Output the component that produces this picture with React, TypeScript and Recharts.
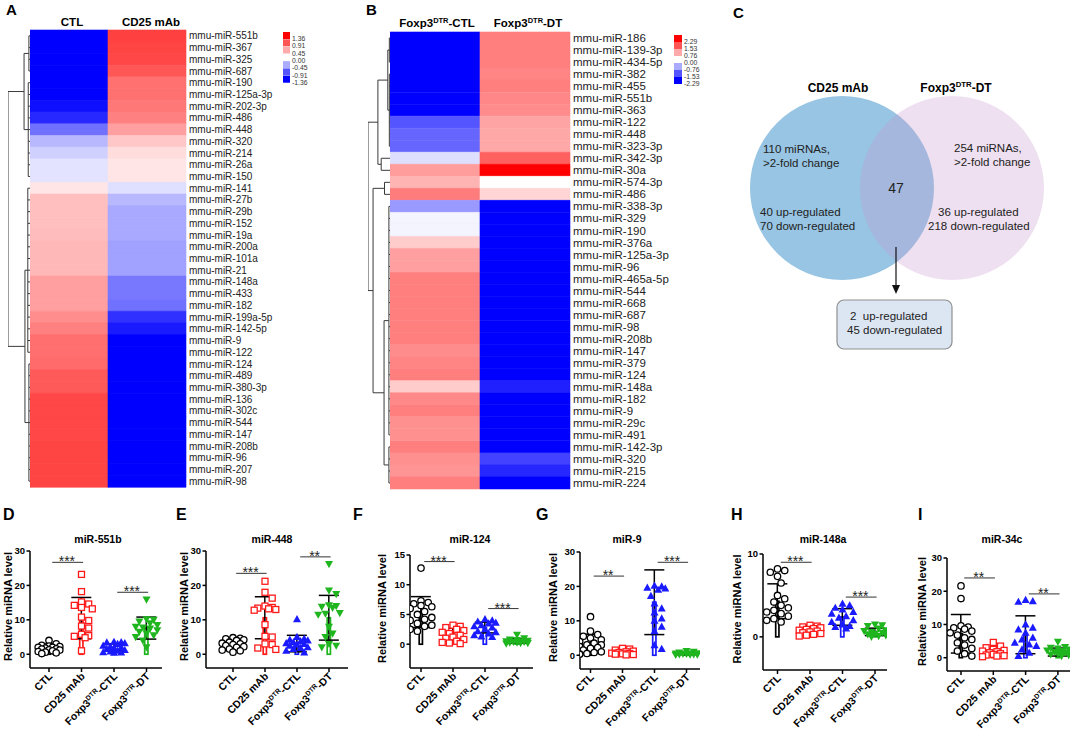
import React from 'react';
import {
  BarChart, Bar, Cell, XAxis, YAxis, ComposedChart, Scatter, ErrorBar,
  ReferenceLine, ScatterChart, LineChart, Line,
} from 'recharts';

const FONT = '"Liberation Sans", Arial, Helvetica, sans-serif';

// ---------------- Heatmap A (CTL vs CD25 mAb) ----------------
const heatA_rows = [
  'mmu-miR-551b', 'mmu-miR-367', 'mmu-miR-325', 'mmu-miR-687', 'mmu-miR-190', 'mmu-miR-125a-3p',
  'mmu-miR-202-3p', 'mmu-miR-486', 'mmu-miR-448', 'mmu-miR-320', 'mmu-miR-214', 'mmu-miR-26a',
  'mmu-miR-150', 'mmu-miR-141', 'mmu-miR-27b', 'mmu-miR-29b', 'mmu-miR-152', 'mmu-miR-19a',
  'mmu-miR-200a', 'mmu-miR-101a', 'mmu-miR-21', 'mmu-miR-148a', 'mmu-miR-433', 'mmu-miR-182',
  'mmu-miR-199a-5p', 'mmu-miR-142-5p', 'mmu-miR-9', 'mmu-miR-122', 'mmu-miR-124', 'mmu-miR-489',
  'mmu-miR-380-3p', 'mmu-miR-136', 'mmu-miR-302c', 'mmu-miR-544', 'mmu-miR-147', 'mmu-miR-208b',
  'mmu-miR-96', 'mmu-miR-207', 'mmu-miR-98',
];
const heatA_ctl = [
  -1.36, -1.36, -1.36, -1.36, -1.36, -1.36, -1.28, -1.15, -0.76, -0.38, -0.25, -0.15, -0.15,
  0.14, 0.34, 0.34, 0.34, 0.36, 0.38, 0.38, 0.38, 0.51, 0.51, 0.51, 0.61, 0.68, 0.77, 0.77,
  0.79, 0.88, 0.88, 0.98, 0.98, 0.98, 0.98, 1.0, 1.0, 1.0, 1.0,
];
const heatA_cd25 = [
  1.02, 1.0, 0.98, 0.9, 0.76, 0.76, 0.72, 0.68, 0.51, 0.3, 0.18, 0.14, 0.14,
  -0.17, -0.38, -0.46, -0.46, -0.46, -0.5, -0.5, -0.5, -0.72, -0.72, -0.76, -1.1, -1.22,
  -1.36, -1.36, -1.36, -1.36, -1.36, -1.36, -1.36, -1.36, -1.36, -1.36, -1.36, -1.36, -1.36,
];
const heatA_legend = [1.36, 0.91, 0.45, 0, -0.45, -0.91, -1.36];
const heatA_max = 1.36;

// ---------------- Heatmap B (Foxp3DTR-CTL vs Foxp3DTR-DT) ----------------
const heatB_rows = [
  'mmu-miR-186', 'mmu-miR-139-3p', 'mmu-miR-434-5p', 'mmu-miR-382', 'mmu-miR-455', 'mmu-miR-551b',
  'mmu-miR-363', 'mmu-miR-122', 'mmu-miR-448', 'mmu-miR-323-3p', 'mmu-miR-342-3p', 'mmu-miR-30a',
  'mmu-miR-574-3p', 'mmu-miR-486', 'mmu-miR-338-3p', 'mmu-miR-329', 'mmu-miR-190', 'mmu-miR-376a',
  'mmu-miR-125a-3p', 'mmu-miR-96', 'mmu-miR-465a-5p', 'mmu-miR-544', 'mmu-miR-668', 'mmu-miR-687',
  'mmu-miR-98', 'mmu-miR-208b', 'mmu-miR-147', 'mmu-miR-379', 'mmu-miR-124', 'mmu-miR-148a',
  'mmu-miR-182', 'mmu-miR-9', 'mmu-miR-29c', 'mmu-miR-491', 'mmu-miR-142-3p', 'mmu-miR-320',
  'mmu-miR-215', 'mmu-miR-224',
];
const heatB_ctl = [
  -2.29, -2.29, -2.29, -2.29, -2.29, -2.29, -2.29, -1.53, -1.37, -1.37, -0.3, 0.89, 0.67, 1.18,
  -0.92, -0.1, -0.1, 0.46, 0.86, 0.86, 1.15, 1.15, 1.15, 1.15, 1.15, 1.15, 1.03, 1.1, 1.15,
  0.46, 1.06, 1.15, 1.0, 1.0, 1.15, 1.0, 0.96, 1.15,
];
const heatB_dt = [
  1.15, 1.15, 1.15, 1.1, 1.15, 1.08, 1.03, 0.82, 0.78, 0.78, 1.43, 2.29, 0.0, 0.38,
  -2.29, -2.29, -2.29, -2.29, -2.29, -2.29, -2.29, -2.29, -2.29, -2.29, -2.29, -2.29, -2.29, -2.29, -2.29,
  -2.0, -2.29, -2.29, -2.29, -2.29, -2.29, -1.7, -1.95, -2.29,
];
const heatB_legend = [2.29, 1.53, 0.76, 0, -0.76, -1.53, -2.29];
const heatB_max = 2.29;

// Row dendrograms (leaf index ranges, merge heights 0..1)
const dendroA = {
  h: 1, kids: [
    { h: 0.27, kids: [{ h: 0.05, leaves: [0, 3] }, { h: 0.08, leaves: [4, 12] }] },
    { h: 0.23, kids: [{ h: 0.1, leaves: [13, 27] }, { h: 0.05, leaves: [28, 38] }] },
  ],
};
const dendroB = {
  h: 1, kids: [
    { h: 0.55, kids: [
      { h: 0.1, kids: [{ h: 0.03, leaves: [0, 2] }, { h: 0.03, leaves: [3, 9] }] },
      { h: 0.4, leaves: [10, 11] },
    ] },
    { h: 0.77, kids: [
      { h: 0.25, leaves: [12, 13] },
      { h: 0.27, kids: [{ h: 0.05, leaves: [14, 33] }, { h: 0.05, leaves: [34, 37] }] },
    ] },
  ],
};

// ---------------- Venn (C) ----------------
const vennSets = [
  { name: 'CD25 mAb', total: 110, up: 40, down: 70 },
  { name: 'Foxp3DTR-DT', total: 254, up: 36, down: 218 },
];
const vennShared = { total: 47, up: 2, down: 45 };

// ---------------- Dot-bar panels (D-I) ----------------
const groupNames = ['CTL', 'CD25 mAb', 'Foxp3DTR-CTL', 'Foxp3DTR-DT'];
const panelLetters = ['D', 'E', 'F', 'G', 'H', 'I'];
const panelTitles = ['miR-551b', 'miR-448', 'miR-124', 'miR-9', 'miR-148a', 'miR-34c'];
const panelYTicks = [[0, 10, 20, 30], [0, 10, 20, 30], [0, 5, 10, 15], [0, 10, 20, 30], [0, 10], [0, 10, 20, 30]];
const panelYMin = [-4, -4, -4, -4, -4, -4];
const panelMeans = [
  [1.8, 10.5, 2.0, 7.6],
  [2.7, 10.6, 3.1, 10.6],
  [5.4, 1.7, 2.8, 0.55],
  [3.4, 0.8, 15.4, 0.5],
  [4.3, 0.9, 2.4, 0.6],
  [7.2, 1.8, 6.9, 1.7],
];
const panelSDs = [
  [1.2, 6.0, 1.0, 3.2],
  [1.4, 6.1, 2.4, 6.5],
  [2.6, 1.0, 0.9, 0.4],
  [2.7, 0.6, 9.4, 0.35],
  [2.1, 0.5, 1.0, 0.45],
  [5.8, 1.0, 5.7, 1.2],
];
const panelPoints = [
  [
    [4.0, 3.0, 2.6, 2.4, 2.2, 2.0, 2.0, 1.8, 1.6, 1.5, 1.3, 1.2, 1.0, 0.8, 0.6, 0.4, 0.2],
    [23.2, 18.2, 15.2, 14.6, 14.2, 13.6, 13.2, 10.8, 9.8, 8.2, 7.6, 5.8, 5.4, 5.2, 4.8, 1.0],
    [3.6, 3.5, 3.4, 3.2, 3.0, 2.5, 2.2, 2.0, 1.8, 1.5, 1.2, 1.0, 0.8, 0.6, 0.5, 0.4],
    [15.9, 10.2, 10.0, 9.5, 9.0, 8.5, 8.0, 7.8, 7.5, 7.0, 6.5, 6.0, 5.5, 5.0, 4.0, 2.0],
  ],
  [
    [4.8, 4.6, 4.5, 4.2, 4.0, 3.5, 3.2, 3.0, 2.8, 2.5, 2.2, 2.0, 1.5, 1.2, 1.0, 0.6],
    [21.2, 18.0, 16.3, 14.0, 13.6, 13.4, 13.2, 13.0, 12.8, 8.6, 5.2, 5.0, 3.0, 2.8, 1.8, 1.4],
    [10.2, 5.0, 4.5, 4.2, 4.0, 3.8, 3.5, 3.2, 3.0, 2.8, 2.5, 2.0, 1.8, 1.5, 1.0, 0.5],
    [26.2, 18.5, 17.5, 14.2, 14.0, 13.8, 13.5, 12.0, 11.8, 11.5, 8.0, 6.0, 5.0, 3.0, 2.5, 2.0],
  ],
  [
    [12.8, 7.3, 7.0, 6.8, 6.5, 6.3, 6.0, 5.5, 5.0, 4.5, 4.2, 4.0, 3.5, 3.2, 3.0, 2.5, 2.2],
    [3.2, 3.0, 2.8, 2.5, 2.3, 2.0, 1.8, 1.5, 1.2, 1.0, 0.8, 0.5, 0.3, 0.2, 0.1],
    [4.2, 4.0, 3.8, 3.6, 3.5, 3.2, 3.0, 2.8, 2.5, 2.2, 2.0, 1.8, 1.5, 1.3, 1.2],
    [1.6, 1.0, 0.8, 0.7, 0.6, 0.5, 0.5, 0.4, 0.4, 0.3, 0.3, 0.2, 0.2, 0.1],
  ],
  [
    [11.2, 7.0, 6.0, 5.5, 5.0, 4.5, 4.0, 3.5, 3.0, 3.0, 2.5, 2.2, 2.0, 1.5, 1.0, 0.8, 0.5, 0.3],
    [2.0, 1.8, 1.5, 1.2, 1.0, 0.8, 0.6, 0.5, 0.4, 0.3, 0.2, 0.1],
    [20.2, 20.0, 19.6, 19.4, 19.0, 17.2, 15.0, 13.6, 12.4, 10.7, 10.0, 8.3, 7.0, 2.9, 1.8],
    [1.2, 1.0, 0.8, 0.6, 0.5, 0.5, 0.4, 0.4, 0.3, 0.3, 0.2, 0.2, 0.1],
  ],
  [
    [8.2, 8.0, 7.8, 7.3, 6.5, 5.0, 4.6, 4.2, 3.8, 3.5, 3.2, 3.0, 2.8, 2.5, 2.2, 2.0, 1.8],
    [1.4, 1.3, 1.2, 1.1, 1.0, 0.9, 0.8, 0.7, 0.6, 0.5, 0.4, 0.3, 0.2, 0.1],
    [4.0, 3.8, 3.5, 3.3, 3.0, 2.8, 2.5, 2.3, 2.0, 1.8, 1.5, 1.3, 1.2, 1.0],
    [1.5, 1.4, 1.3, 1.0, 0.8, 0.7, 0.6, 0.5, 0.4, 0.3, 0.2, 0.1, 0.0],
  ],
  [
    [21.6, 17.8, 9.6, 9.2, 9.0, 8.6, 8.0, 7.5, 6.8, 6.0, 5.5, 4.5, 3.8, 2.8, 2.0, 1.2, 0.5],
    [4.6, 3.5, 3.0, 2.5, 2.2, 2.0, 1.8, 1.5, 1.2, 1.0, 0.8, 0.6, 0.5, 0.3],
    [17.4, 17.0, 16.8, 10.0, 9.0, 8.5, 7.5, 6.0, 5.5, 4.5, 4.0, 3.5, 2.5, 1.5, 0.5],
    [4.8, 3.2, 3.0, 2.8, 2.5, 2.2, 2.0, 1.8, 1.5, 1.2, 1.0, 0.8, 0.5],
  ],
];
const panelSig = [
  [{ a: 0, b: 1, y: 26.7, text: '***' }, { a: 2, b: 3, y: 18, text: '***' }],
  [{ a: 0, b: 1, y: 23.5, text: '***' }, { a: 2, b: 3, y: 28.3, text: '**' }],
  [{ a: 0, b: 1, y: 13.9, text: '***' }, { a: 2, b: 3, y: 6.0, text: '***' }],
  [{ a: 0, b: 1, y: 23, text: '**' }, { a: 2, b: 3, y: 27, text: '***' }],
  [{ a: 0, b: 1, y: 9.0, text: '***' }, { a: 2, b: 3, y: 4.8, text: '***' }],
  [{ a: 0, b: 1, y: 24, text: '**' }, { a: 2, b: 3, y: 19.2, text: '**' }],
];

// ---------------- layout / style (not data) ----------------
const panelLayout = [
  { left: 0, width: 175, axisX: 30, right: 162, top: 551, bottom: 668, c0: 19, s: 32.5, ylabX: 12, titleX: 98, letterX: 3 },
  { left: 176, width: 176, axisX: 206, right: 348, top: 551, bottom: 668, c0: 27, s: 32, ylabX: 188, titleX: 272, letterX: 176 },
  { left: 353, width: 180, axisX: 410, right: 533, top: 555, bottom: 668, c0: 11, s: 32, ylabX: 386, titleX: 470, letterX: 353 },
  { left: 533, width: 178, axisX: 580, right: 700, top: 552, bottom: 669, c0: 10.5, s: 32, ylabX: 557, titleX: 627, letterX: 536 },
  { left: 712, width: 178, axisX: 763, right: 887, top: 554, bottom: 670, c0: 14.5, s: 32.5, ylabX: 741, titleX: 823, letterX: 731 },
  { left: 890, width: 185, axisX: 947, right: 1070, top: 558, bottom: 671, c0: 14, s: 32.3, ylabX: 926, titleX: 1002, letterX: 918 },
];
const groupColors = ['#000000', '#ff1a1a', '#1a1aff', '#1fb51f'];
const vennFill = ['#97c5e3', '#c698cd'];
const vennOpacity = [1, 0.3];

function heatColor(v: number, max: number) {
  const t = Math.max(0, Math.min(1, Math.abs(v) / max));
  const c = Math.round(255 * (1 - t));
  return v >= 0 ? `rgb(255,${c},${c})` : `rgb(${c},${c},255)`;
}

type DNode = { h: number; leaves?: number[]; kids?: DNode[] };
type Seg = { x1: number; y1: number; x2: number; y2: number };
function buildDendro(node: DNode, segs: Seg[]): { c: number; h: number } {
  if (node.leaves) {
    const [a, b] = node.leaves;
    for (let i = a; i <= b; i++) segs.push({ x1: 0, y1: i + 0.5, x2: node.h, y2: i + 0.5 });
    segs.push({ x1: node.h, y1: a + 0.5, x2: node.h, y2: b + 0.5 });
    return { c: (a + b + 1) / 2, h: node.h };
  }
  const k1 = buildDendro(node.kids![0], segs);
  const k2 = buildDendro(node.kids![1], segs);
  segs.push({ x1: k1.h, y1: k1.c, x2: node.h, y2: k1.c });
  segs.push({ x1: k2.h, y1: k2.c, x2: node.h, y2: k2.c });
  segs.push({ x1: node.h, y1: k1.c, x2: node.h, y2: k2.c });
  return { c: (k1.c + k2.c) / 2, h: node.h };
}

function Dendrogram({ tree, n, left, top, width, height }: any) {
  const segs: Seg[] = [];
  buildDendro(tree, segs);
  const frame = [{ x: 0, y: 0 }, { x: 1, y: n }];
  return (
    <div style={{ position: 'absolute', left, top }}>
      <LineChart width={width} height={height} data={frame} margin={{ top: 0, right: 0, bottom: 0, left: 0 }}>
        <XAxis type="number" dataKey="x" domain={[0, 1]} reversed hide />
        <YAxis type="number" dataKey="y" domain={[0, n]} reversed hide />
        <Line dataKey="y" stroke="none" dot={false} activeDot={false} isAnimationActive={false} />
        {segs.map((s, i) => (
          <ReferenceLine key={i} segment={[{ x: s.x1, y: s.y1 }, { x: s.x2, y: s.y2 }]} stroke="#3a3a3a" strokeWidth={1} ifOverflow="visible" />
        ))}
      </LineChart>
    </div>
  );
}

function Heatmap({ rows, colA, colB, max, left, top, plotW, plotH, axisW, fontSize }: any) {
  const data = rows.map((name: string, i: number) => ({ name, one: 1, two: 1, a: colA[i], b: colB[i] }));
  const bottom = 15;
  const height = top + plotH + bottom;
  return (
    <div style={{ position: 'absolute', left, top: 0 }}>
      <BarChart layout="vertical" width={plotW + axisW} height={height} data={data}
        margin={{ top, right: 0, bottom, left: 0 }} barCategoryGap={0}>
        <XAxis type="number" domain={[0, 2]} hide />
        <YAxis type="category" dataKey="name" orientation="right" width={axisW} axisLine={false} tickLine={false}
          tickSize={0} tickMargin={3} interval={0}
          tick={{ fontSize, fill: '#222', fontFamily: FONT }} />
        <Bar dataKey="one" stackId="s" isAnimationActive={false}>
          {data.map((d: any, i: number) => <Cell key={i} fill={heatColor(d.a, max)} stroke={heatColor(d.a, max)} strokeWidth={0.6} />)}
        </Bar>
        <Bar dataKey="two" stackId="s" isAnimationActive={false}>
          {data.map((d: any, i: number) => <Cell key={i} fill={heatColor(d.b, max)} stroke={heatColor(d.b, max)} strokeWidth={0.6} />)}
        </Bar>
      </BarChart>
    </div>
  );
}

const LegendTick = ({ x, y, payload }: any) => (
  <text x={x + 2} y={y + 3.2} dy="0.33em" fontSize={6.8} fill="#333" fontFamily={FONT}>{payload.value}</text>
);

function HeatLegend({ values, max, left, top, height, swatchW }: any) {
  const data = values.map((v: number) => ({ name: v.toFixed(2), one: 1, v }));
  const pad = 8;
  return (
    <div style={{ position: 'absolute', left, top }}>
      <BarChart layout="vertical" width={swatchW + 34} height={height + pad} data={data}
        margin={{ top: 0, right: 0, bottom: pad, left: 0 }} barCategoryGap={0}>
        <XAxis type="number" domain={[0, 1]} hide />
        <YAxis type="category" dataKey="name" orientation="right" width={34} axisLine={false} tickLine={false}
          tickSize={0} tickMargin={0} interval={0} tick={<LegendTick />} />
        <Bar dataKey="one" isAnimationActive={false}>
          {data.map((d: any, i: number) => <Cell key={i} fill={heatColor(d.v, max)} />)}
        </Bar>
      </BarChart>
    </div>
  );
}

function SupLabel({ name, size }: { name: string; size: number }) {
  if (!name.startsWith('Foxp3DTR')) return <>{name}</>;
  return (
    <>
      <tspan>Foxp3</tspan>
      <tspan fontSize={size * 0.65} dy={-size * 0.38}>DTR</tspan>
      <tspan fontSize={size} dy={size * 0.38}>{name.slice(8)}</tspan>
    </>
  );
}

const GroupTick = ({ x, y, payload }: any) => {
  const name = groupNames[payload.value];
  return (
    <g transform={`translate(${x + 4},${y + 3})`}>
      <text textAnchor="end" transform="rotate(-45)" fontSize={10.5} fontWeight="bold" fontFamily={FONT} fill="#000">
        <SupLabel name={name} size={10.5} />
      </text>
    </g>
  );
};

function swarm(vals: number[], pxY: number, diam: number, maxPx: number) {
  const order = vals.map((_, i) => i).sort((a, b) => vals[b] - vals[a]);
  const placed: { x: number; y: number }[] = [];
  const res = new Array(vals.length).fill(0);
  for (const i of order) {
    const y = vals[i] * pxY;
    let best = 0;
    let bestScore = -Infinity;
    outer: for (let k = 0; k <= 10; k++) {
      for (const sgn of k === 0 ? [1] : [1, -1]) {
        const x = sgn * k * diam * 0.5;
        if (Math.abs(x) > maxPx) continue;
        let minD = Infinity;
        for (const p of placed) minD = Math.min(minD, Math.hypot(p.x - x, p.y - y));
        if (minD >= diam) { best = x; break outer; }
        if (minD > bestScore) { bestScore = minD; best = x; }
      }
    }
    placed.push({ x: best, y });
    res[i] = best;
  }
  return res;
}

const PointShape = (p: any) => {
  const { cx, cy, payload } = p;
  if (cx == null || cy == null) return null;
  const g = payload.g;
  if (g === 0) return <circle cx={cx} cy={cy} r={3.2} fill="#fff" stroke={groupColors[0]} strokeWidth={1.3} />;
  if (g === 1) return <rect x={cx - 3} y={cy - 3} width={6} height={6} fill="#fff" stroke={groupColors[1]} strokeWidth={1.3} />;
  if (g === 2) return <polygon points={`${cx},${cy - 4.2} ${cx - 4},${cy + 3} ${cx + 4},${cy + 3}`} fill={groupColors[2]} />;
  return <polygon points={`${cx - 4},${cy - 3} ${cx + 4},${cy - 3} ${cx},${cy + 4.2}`} fill={groupColors[3]} />;
};

const StarShape = (p: any) => (
  <text x={p.cx} y={p.cy + 4} textAnchor="middle" fontSize={14} fontFamily={FONT} fill="#222">{p.payload.text}</text>
);

const BarShape = (p: any) => {
  const { x, y, width, height, index } = p;
  const top = Math.min(y, y + height);
  const h = Math.abs(height);
  return <rect x={x} y={top} width={width} height={h} fill="none" stroke={groupColors[index]} strokeWidth={1.7} />;
};

function DotBarPanel({ i }: { i: number }) {
  const L = panelLayout[i];
  const ticks = panelYTicks[i];
  const yMin = panelYMin[i];
  const yMax = ticks[ticks.length - 1];
  const plotW = L.right - L.axisX;
  const plotH = L.bottom - L.top;
  const pxY = plotH / (yMax - yMin);
  const lo = -L.c0 / L.s;
  const hi = lo + plotW / L.s;
  const barData = panelMeans[i].map((m, g) => ({ x: g, mean: m, sd: panelSDs[i][g] }));
  const pts = panelPoints[i].flatMap((vals, g) => {
    const offs = swarm(vals, pxY, 7.2, 12);
    return vals.map((v, k) => ({ x: g + offs[k] / L.s, y: v, g }));
  });
  const stars = panelSig[i].map((s) => ({ x: (s.a + s.b) / 2 + 0.05, y: s.y, text: s.text }));
  return (
    <div style={{ position: 'absolute', left: L.left, top: 500 }}>
      <ComposedChart width={L.width} height={229} data={barData}
        margin={{ top: L.top - 500, right: L.left + L.width - L.right, bottom: 0, left: 0 }}>
        <XAxis type="number" dataKey="x" domain={[lo, hi]} ticks={[0, 1, 2, 3]} interval={0} allowDataOverflow
          height={729 - L.bottom} tickSize={4} tick={<GroupTick />}
          axisLine={{ stroke: '#000', strokeWidth: 1.5 }} tickLine={{ stroke: '#000', strokeWidth: 1.5 }} />
        <YAxis type="number" domain={[yMin, yMax]} ticks={ticks} interval={0} allowDataOverflow
          width={L.axisX - L.left} tickSize={3.5} tickMargin={1.5}
          tick={{ fontSize: 9.5, fontWeight: 'bold', fill: '#000', fontFamily: FONT }}
          axisLine={{ stroke: '#000', strokeWidth: 1.5 }} tickLine={{ stroke: '#000', strokeWidth: 1.5 }} />
        <Scatter data={pts} dataKey="y" shape={PointShape} isAnimationActive={false} />
        <Bar dataKey="mean" barSize={21} shape={BarShape} isAnimationActive={false}>
          <ErrorBar dataKey="sd" width={10} strokeWidth={1.5} stroke="#000" direction="y" />
        </Bar>
        {panelSig[i].map((s, k) => (
          <ReferenceLine key={k} segment={[{ x: s.a + 0.1, y: s.y }, { x: s.b + 0.05, y: s.y }]}
            stroke="#444" strokeWidth={1.1} ifOverflow="visible" />
        ))}
        <Scatter data={stars} dataKey="y" shape={StarShape} isAnimationActive={false} />
      </ComposedChart>
    </div>
  );
}

const VennCircle = (p: any) => {
  if (p.cx == null) return null;
  const k = p.payload.i;
  return <circle cx={p.cx} cy={p.cy} r={92} fill={vennFill[k]} fillOpacity={vennOpacity[k]} />;
};

function Venn() {
  const pts = vennSets.map((s, i) => ({ idx: i, yy: 0, i }));
  return (
    <div style={{ position: 'absolute', left: 730, top: 60 }}>
      <ScatterChart width={345} height={300} margin={{ top: 0, right: 0, bottom: 0, left: 0 }}>
        <XAxis type="number" dataKey="idx" domain={[-112 / 110, 233 / 110]} hide />
        <YAxis type="number" dataKey="yy" domain={[-172, 128]} hide />
        <Scatter data={[pts[0]]} shape={VennCircle} isAnimationActive={false} />
        <Scatter data={[pts[1]]} shape={VennCircle} isAnimationActive={false} />
      </ScatterChart>
    </div>
  );
}

function Overlay() {
  const t = { fontFamily: FONT, fill: '#222' };
  const [vl, vr] = vennSets;
  return (
    <svg width={1075} height={729} style={{ position: 'absolute', left: 0, top: 0, pointerEvents: 'none' }}>
      <text x={6} y={15} fontSize={15} fontWeight="bold" fontFamily={FONT}>A</text>
      <text x={366} y={15} fontSize={15} fontWeight="bold" fontFamily={FONT}>B</text>
      <text x={733} y={18} fontSize={15} fontWeight="bold" fontFamily={FONT}>C</text>
      {panelLayout.map((L, i) => (
        <g key={i}>
          <text x={L.letterX} y={520} fontSize={16} fontWeight="bold" fontFamily={FONT}>{panelLetters[i]}</text>
          <text x={L.titleX} y={543} textAnchor="middle" fontSize={10.5} fontWeight="bold" fontFamily={FONT}>{panelTitles[i]}</text>
          <text transform={`translate(${L.ylabX},${(L.top + L.bottom) / 2 - 3}) rotate(-90)`} textAnchor="middle"
            fontSize={11} fontWeight="bold" fontFamily={FONT}>Relative miRNA level</text>
        </g>
      ))}
      <text x={72} y={26} textAnchor="middle" fontSize={11.5} fontWeight="bold" fontFamily={FONT}>{groupNames[0]}</text>
      <text x={151} y={26} textAnchor="middle" fontSize={11.5} fontWeight="bold" fontFamily={FONT}>{groupNames[1]}</text>
      <text x={437} y={27} textAnchor="middle" fontSize={11.5} fontWeight="bold" fontFamily={FONT}><SupLabel name={groupNames[2]} size={11.5} /></text>
      <text x={528} y={27} textAnchor="middle" fontSize={11.5} fontWeight="bold" fontFamily={FONT}><SupLabel name={groupNames[3]} size={11.5} /></text>
      <text x={838} y={92} textAnchor="middle" fontSize={12} fontWeight="bold" fontFamily={FONT}>{vl.name}</text>
      <text x={956} y={92} textAnchor="middle" fontSize={12} fontWeight="bold" fontFamily={FONT}><SupLabel name={vr.name} size={12} /></text>
      <text x={763} y={153} fontSize={11.5} {...t}>{`${vl.total} miRNAs,`}</text>
      <text x={763} y={167} fontSize={11.5} {...t}>{'>2-fold change'}</text>
      <text x={760} y={216} fontSize={11.5} {...t}>{`${vl.up} up-regulated`}</text>
      <text x={760} y={230} fontSize={11.5} {...t}>{`${vl.down} down-regulated`}</text>
      <text x={896} y={193} textAnchor="middle" fontSize={14} {...t}>{vennShared.total}</text>
      <text x={954} y={152} fontSize={11.5} {...t}>{`${vr.total} miRNAs,`}</text>
      <text x={954} y={166} fontSize={11.5} {...t}>{'>2-fold change'}</text>
      <text x={938} y={216} fontSize={11.5} {...t}>{`${vr.up} up-regulated`}</text>
      <text x={928} y={230} fontSize={11.5} {...t}>{`${vr.down} down-regulated`}</text>
      <line x1={896} y1={247} x2={896} y2={287} stroke="#111" strokeWidth={1.2} />
      <polygon points="892,285 900,285 896,294" fill="#111" />
      <rect x={837} y={300} width={115} height={49} rx={7} fill="#dce6f3" stroke="#8f8f8f" strokeWidth={1.2} />
      <text x={850} y={320} fontSize={11.5} {...t} style={{ whiteSpace: 'pre' }}>{`${vennShared.up}  up-regulated`}</text>
      <text x={847} y={334} fontSize={11.5} {...t}>{`${vennShared.down} down-regulated`}</text>
    </svg>
  );
}

export default function App() {
  return (
    <div style={{ position: 'absolute', left: 0, top: 0, width: 1075, height: 729, background: '#fff', fontFamily: FONT, overflow: 'hidden' }}>
      <Heatmap rows={heatA_rows} colA={heatA_ctl} colB={heatA_cd25} max={heatA_max}
        left={30} top={30} plotW={156} plotH={457} axisW={104} fontSize={10} />
      <Dendrogram tree={dendroA} n={heatA_rows.length} left={8} top={30} width={22} height={457} />
      <HeatLegend values={heatA_legend} max={heatA_max} left={283} top={32} height={51} swatchW={7} />
      <Heatmap rows={heatB_rows} colA={heatB_ctl} colB={heatB_dt} max={heatB_max}
        left={390} top={32} plotW={180} plotH={457} axisW={125} fontSize={11.5} />
      <Dendrogram tree={dendroB} n={heatB_rows.length} left={368} top={32} width={22} height={457} />
      <HeatLegend values={heatB_legend} max={heatB_max} left={674} top={35} height={49} swatchW={8} />
      <Venn />
      {panelLayout.map((_, i) => <DotBarPanel key={i} i={i} />)}
      <Overlay />
    </div>
  );
}
